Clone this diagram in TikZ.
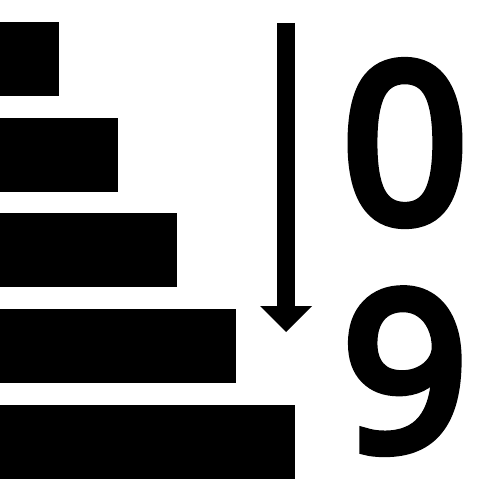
\documentclass[tikz,border=0pt]{standalone}
\usepackage{fontspec}
\setmainfont{Open Sans}
\newfontfamily\semifont{Open Sans}[FakeBold=5.5]
\usetikzlibrary{arrows.meta}
\begin{document}
\begin{tikzpicture}[x=1pt,y=-1pt,
  bar/.style={fill=black},
  digit/.style={inner sep=0pt,anchor=base,font=\fontsize{218}{218}\selectfont\semifont}]
\useasboundingbox[fill=white] (0,0) rectangle (500,500);
\fill[bar] (0,22) rectangle (59,96);
\fill[bar] (0,118) rectangle (118,192);
\fill[bar] (0,213) rectangle (177,287);
\fill[bar] (0,309) rectangle (236,383);
\fill[bar] (0,405) rectangle (295,479);
\coordinate (s) at (286,23);
\coordinate (e) at (286,332);
\draw[line width=18pt,-{Triangle[width=52pt,length=26pt,line width=0pt]}] (s) -- (e);
\node[digit] (zero) at (405,221) {0};
\node[digit] (nine) at (405,449) {9};
\end{tikzpicture}
\end{document}
